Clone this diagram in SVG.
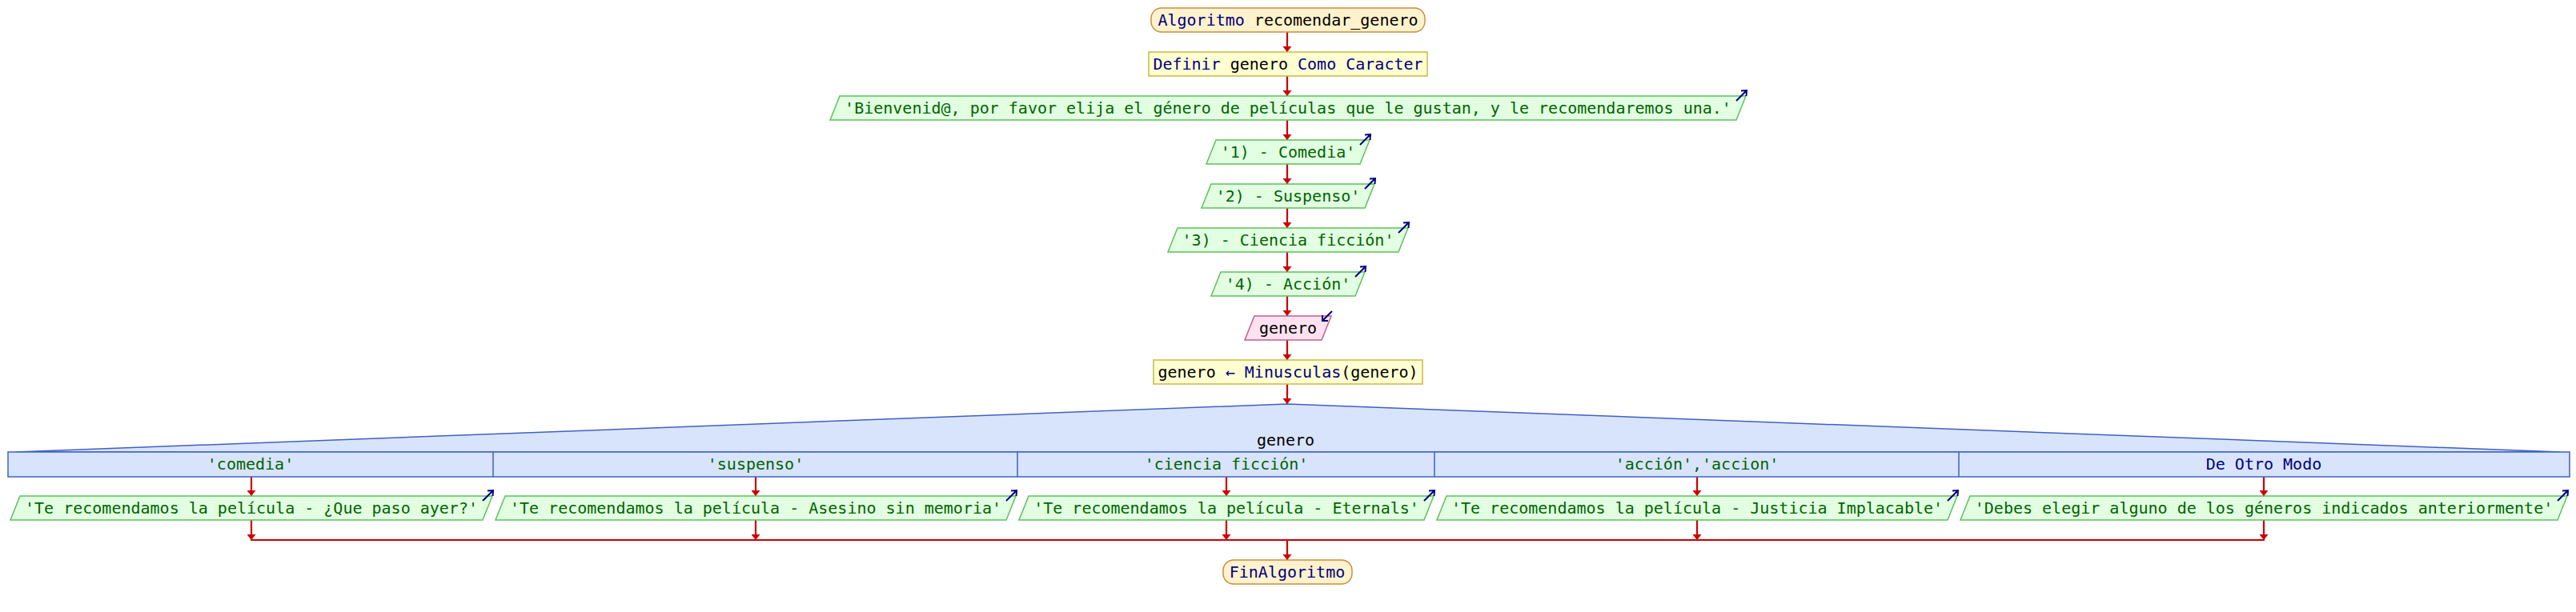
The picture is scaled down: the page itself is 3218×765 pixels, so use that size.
<svg xmlns="http://www.w3.org/2000/svg" width="3218" height="765" viewBox="0 0 3218 765">
<style>
text{font-family:"DejaVu Sans Mono","Liberation Mono",monospace;font-size:20px;text-anchor:middle}
.k{fill:#000080}
.b{fill:#000000}
.g{fill:#006400}
.term{fill:#fff2cc;stroke:#c89040;stroke-width:1.5}
.proc{fill:#ffffd2;stroke:#c8b848;stroke-width:1.5}
.out{fill:#e2ffe2;stroke:#5cc05c;stroke-width:1.5}
.inp{fill:#ffe2f0;stroke:#c06090;stroke-width:1.5}
.sw{fill:#d8e4fc;stroke:#4060c0;stroke-width:1.5}
.icon{fill:none;stroke:#000080;stroke-width:2}
.c{fill:none;stroke:#cc0000;stroke-width:2.2}
.ca{fill:none;stroke:#cc0000;stroke-width:2.2;marker-end:url(#ah)}
</style>
<defs>
<marker id="ah" markerUnits="userSpaceOnUse" markerWidth="7" markerHeight="11" refX="7" refY="5.5" orient="auto"><path d="M0,0 L7,5.5 L0,11 z" fill="#cc0000"/></marker>
<path id="oi" d="M-13,13 L0,0 M-7,0.5 L0,0 L-0.5,7"/>
<path id="ii" d="M12,-12 L0,0 M0,-7 L0,0 L7,0"/>
</defs>
<rect width="3218" height="765" fill="#ffffff"/>
<g id="connectors">
<line class="ca" x1="1608" y1="40" x2="1608" y2="65"/>
<line class="ca" x1="1608" y1="95" x2="1608" y2="120"/>
<line class="ca" x1="1608" y1="150" x2="1608" y2="175"/>
<line class="ca" x1="1608" y1="205" x2="1608" y2="230"/>
<line class="ca" x1="1608" y1="260" x2="1608" y2="285"/>
<line class="ca" x1="1608" y1="315" x2="1608" y2="340"/>
<line class="ca" x1="1608" y1="370" x2="1608" y2="395"/>
<line class="ca" x1="1608" y1="425" x2="1608" y2="450"/>
<line class="ca" x1="1608" y1="480" x2="1608" y2="505"/>
<line class="ca" x1="314" y1="596" x2="314" y2="620"/>
<line class="ca" x1="944" y1="596" x2="944" y2="620"/>
<line class="ca" x1="1532" y1="596" x2="1532" y2="620"/>
<line class="ca" x1="2120" y1="596" x2="2120" y2="620"/>
<line class="ca" x1="2828" y1="596" x2="2828" y2="620"/>
<line class="ca" x1="314" y1="650" x2="314" y2="675"/>
<line class="ca" x1="944" y1="650" x2="944" y2="675"/>
<line class="ca" x1="1532" y1="650" x2="1532" y2="675"/>
<line class="ca" x1="2120" y1="650" x2="2120" y2="675"/>
<line class="ca" x1="2828" y1="650" x2="2828" y2="675"/>
<line class="c" x1="313" y1="675" x2="2829" y2="675"/>
<line class="ca" x1="1608" y1="675" x2="1608" y2="700"/>
</g>
<g id="start">
<rect class="term" x="1438" y="10" width="342" height="30" rx="13"/>
<text x="1609" y="32"><tspan class="k">Algoritmo</tspan><tspan class="b"> recomendar_genero</tspan></text>
</g>
<g id="definir">
<rect class="proc" x="1435" y="65" width="348" height="30"/>
<text x="1609" y="87"><tspan class="k">Definir</tspan><tspan class="b"> genero </tspan><tspan class="k">Como Caracter</tspan></text>
</g>
<g id="out_bienvenida">
<polygon class="out" points="1049,120 2181,120 2169,150 1037,150"/>
<text class="g" x="1609" y="142">'Bienvenid@, por favor elija el género de películas que le gustan, y le recomendaremos una.'</text>
<use href="#oi" class="icon" x="2182" y="113"/>
</g>
<g id="out_1">
<polygon class="out" points="1519,175 1711,175 1699,205 1507,205"/>
<text class="g" x="1609" y="197">'1) - Comedia'</text>
<use href="#oi" class="icon" x="1712" y="168"/>
</g>
<g id="out_2">
<polygon class="out" points="1513,230 1717,230 1705,260 1501,260"/>
<text class="g" x="1609" y="252">'2) - Suspenso'</text>
<use href="#oi" class="icon" x="1718" y="223"/>
</g>
<g id="out_3">
<polygon class="out" points="1471,285 1759,285 1747,315 1459,315"/>
<text class="g" x="1609" y="307">'3) - Ciencia ficción'</text>
<use href="#oi" class="icon" x="1760" y="278"/>
</g>
<g id="out_4">
<polygon class="out" points="1525,340 1705,340 1693,370 1513,370"/>
<text class="g" x="1609" y="362">'4) - Acción'</text>
<use href="#oi" class="icon" x="1706" y="333"/>
</g>
<g id="leer">
<polygon class="inp" points="1567,395 1663,395 1651,425 1555,425"/>
<text class="b" x="1609" y="417">genero</text>
<use href="#ii" class="icon" x="1652" y="401"/>
</g>
<g id="asignar">
<rect class="proc" x="1441" y="450" width="336" height="30"/>
<text x="1609" y="472"><tspan class="b">genero </tspan><tspan class="k">← Minusculas</tspan><tspan class="b">(genero)</tspan></text>
</g>
<g id="segun">
<polygon class="sw" points="1608,505 3198,565 20,565"/>
<rect class="sw" x="10" y="565" width="3200" height="31"/>
<line class="sw" x1="616" y1="565" x2="616" y2="596"/>
<line class="sw" x1="1271" y1="565" x2="1271" y2="596"/>
<line class="sw" x1="1792" y1="565" x2="1792" y2="596"/>
<line class="sw" x1="2447" y1="565" x2="2447" y2="596"/>
<text class="b" x="1606" y="557">genero</text>
<text class="g" x="313" y="587">'comedia'</text>
<text class="g" x="944" y="587">'suspenso'</text>
<text class="g" x="1532" y="587">'ciencia ficción'</text>
<text class="g" x="2120" y="587">'acción','accion'</text>
<text class="k" x="2828" y="587">De Otro Modo</text>
</g>
<g id="out_comedia">
<polygon class="out" points="25,620 615,620 603,650 13,650"/>
<text class="g" x="314" y="642">'Te recomendamos la película - ¿Que paso ayer?'</text>
<use href="#oi" class="icon" x="616" y="613"/>
</g>
<g id="out_suspenso">
<polygon class="out" points="631,620 1269,620 1257,650 619,650"/>
<text class="g" x="944" y="642">'Te recomendamos la película - Asesino sin memoria'</text>
<use href="#oi" class="icon" x="1270" y="613"/>
</g>
<g id="out_ciencia">
<polygon class="out" points="1285,620 1791,620 1779,650 1273,650"/>
<text class="g" x="1532" y="642">'Te recomendamos la película - Eternals'</text>
<use href="#oi" class="icon" x="1792" y="613"/>
</g>
<g id="out_accion">
<polygon class="out" points="1807,620 2445,620 2433,650 1795,650"/>
<text class="g" x="2120" y="642">'Te recomendamos la película - Justicia Implacable'</text>
<use href="#oi" class="icon" x="2446" y="613"/>
</g>
<g id="out_otro">
<polygon class="out" points="2461,620 3207,620 3195,650 2449,650"/>
<text class="g" x="2828" y="642">'Debes elegir alguno de los géneros indicados anteriormente'</text>
<use href="#oi" class="icon" x="3208" y="613"/>
</g>
<g id="fin">
<rect class="term" x="1528" y="700" width="161" height="30" rx="13"/>
<text class="k" x="1608" y="722">FinAlgoritmo</text>
</g>
</svg>
